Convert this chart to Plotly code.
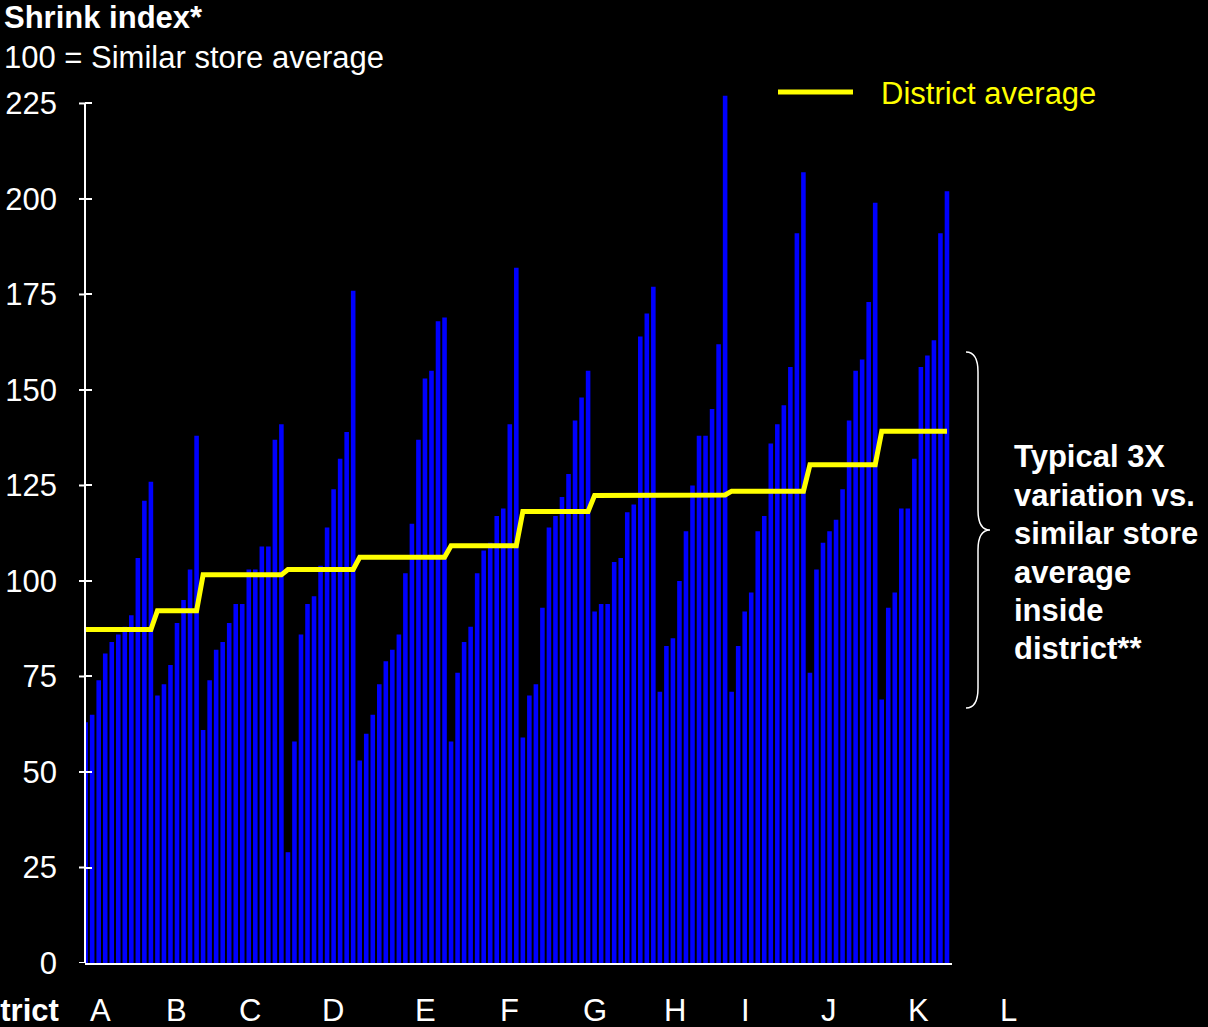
import plotly.graph_objects as go

# ---- data ----
districts = ["A", "B", "C", "D", "E", "F", "G", "H", "I", "J", "K", "L"]
store_A = [63, 65, 74, 81, 84, 86, 88, 91, 106, 121, 126]
store_B = [70, 73, 78, 89, 95, 103, 138]
store_C = [61, 74, 82, 84, 89, 94, 94, 103, 103, 109, 109, 137, 141]
store_D = [29, 58, 86, 94, 96, 104, 114, 124, 132, 139, 176]
store_E = [53, 60, 65, 73, 79, 82, 86, 102, 115, 137, 153, 155, 168, 169]
store_F = [58, 76, 84, 88, 102, 108, 110, 117, 119, 141, 182]
store_G = [59, 70, 73, 93, 114, 117, 122, 128, 142, 148, 155]
store_H = [92, 94, 94, 105, 106, 118, 120, 164, 170, 177]
store_I = [71, 83, 85, 100, 113, 125, 138, 138, 145, 162, 227]
store_J = [71, 83, 92, 97, 113, 117, 136, 141, 146, 156, 191, 207]
store_K = [76, 103, 110, 113, 116, 124, 142, 155, 158, 173, 199]
store_L = [69, 93, 97, 119, 119, 132, 156, 159, 163, 191, 202]
district_avg = [87.3, 92.2, 101.6, 103.0, 106.2, 109.2, 118.2, 122.4, 122.5, 123.5, 130.4, 139.2]
y_ticks = [0, 25, 50, 75, 100, 125, 150, 175, 200, 225]
note_lines = ["Typical 3X", "variation vs.", "similar store", "average", "inside", "district**"]

groups = [store_A, store_B, store_C, store_D, store_E, store_F,
          store_G, store_H, store_I, store_J, store_K, store_L]

shrink = []
avg_line = []
for g, a in zip(groups, district_avg):
    shrink.extend(g)
    avg_line.extend([a] * len(g))
idx = list(range(len(shrink)))

FONT = "Liberation Sans, Arial, sans-serif"
FS = 31

# layout geometry helpers (pixel -> paper)
L, R, T, B = 85, 256, 92, 64
W, H = 1208, 1027
PW, PH = W - L - R, H - T - B


def px(x):
    return (x - L) / PW


def py(y):
    return (H - B - y) / PH


fig = go.Figure()
fig.add_trace(go.Bar(x=idx, y=shrink, marker=dict(color="#0000FF", line=dict(width=0)),
                     showlegend=False, hoverinfo="y"))
fig.add_trace(go.Scatter(x=idx, y=avg_line, mode="lines",
                         line=dict(color="#FFFF00", width=5),
                         name="District average", showlegend=False))

shapes = []
# y axis line up to 225
shapes.append(dict(type="line", xref="paper", yref="y", x0=0, x1=0, y0=0, y1=225,
                   line=dict(color="white", width=2)))
# outer part of y ticks (ticks cross the axis in the reference)
for v in y_ticks:
    shapes.append(dict(type="line", xref="paper", yref="y", x0=px(79), x1=0, y0=v, y1=v,
                       line=dict(color="white", width=2)))
# legend line
shapes.append(dict(type="line", xref="paper", yref="paper",
                   x0=px(778), x1=px(853), y0=py(92), y1=py(92),
                   line=dict(color="#FFFF00", width=5)))
# brace
pts = [("M", 966, 352), ("Q", 978, 352, 978, 372), ("L", 978, 510),
       ("Q", 978, 530, 990, 530), ("Q", 978, 530, 978, 550), ("L", 978, 688),
       ("Q", 978, 708, 966, 708)]
path = ""
for p in pts:
    cmd = p[0]
    coords = p[1:]
    s = []
    for i in range(0, len(coords), 2):
        s.append(f"{px(coords[i]):.5f},{py(coords[i+1]):.5f}")
    path += cmd + " " + " ".join(s) + " "
shapes.append(dict(type="path", xref="paper", yref="paper", path=path.strip(),
                   line=dict(color="white", width=1.5)))

annotations = []
annotations.append(dict(text="<b>Shrink index*</b>", xref="paper", yref="paper",
                        x=px(2), y=py(17), xanchor="left", yanchor="middle",
                        showarrow=False, font=dict(size=FS, color="white", family=FONT)))
annotations.append(dict(text="100 = Similar store average", xref="paper", yref="paper",
                        x=px(2), y=py(57), xanchor="left", yanchor="middle",
                        showarrow=False, font=dict(size=FS, color="white", family=FONT)))
annotations.append(dict(text="District average", xref="paper", yref="paper",
                        x=px(879), y=py(94), xanchor="left", yanchor="middle",
                        showarrow=False, font=dict(size=FS, color="#FFFF00", family=FONT)))
note_py = [457, 495, 533, 572, 610, 648]
for line_txt, yp in zip(note_lines, note_py):
    annotations.append(dict(text=f"<b>{line_txt}</b>", xref="paper", yref="paper",
                            x=px(1012), y=py(yp), xanchor="left", yanchor="middle",
                            showarrow=False, font=dict(size=FS, color="white", family=FONT)))
annotations.append(dict(text="<b>District</b>", xref="paper", yref="paper",
                        x=px(61), y=py(1010), xanchor="right", yanchor="middle",
                        showarrow=False, font=dict(size=FS, color="white", family=FONT)))
label_px = [100, 176, 250, 333, 425, 509, 595, 675, 745, 829, 918, 1009]
for lab, xp in zip(districts, label_px):
    annotations.append(dict(text=lab, xref="paper", yref="paper", x=px(xp), y=py(1010),
                            xanchor="center", yanchor="middle", showarrow=False,
                            font=dict(size=FS, color="white", family=FONT)))

fig.update_layout(
    width=W, height=H,
    margin=dict(l=L, r=R, t=T, b=B, pad=0, autoexpand=False),
    paper_bgcolor="black", plot_bgcolor="black",
    bargap=0.3,
    shapes=shapes, annotations=annotations,
    font=dict(family=FONT, size=FS, color="white"),
    xaxis=dict(range=[-0.1, len(shrink) - 1 + 0.77], showgrid=False, zeroline=False,
               showticklabels=False, ticks="", showline=True, linecolor="white", linewidth=2,
               automargin=False),
    yaxis=dict(range=[0, 228], tickvals=y_ticks, ticktext=[str(v) for v in y_ticks],
               showgrid=False, zeroline=False, showline=False, ticks="inside",
               ticklen=7, tickwidth=2, tickcolor="white", ticklabelstandoff=27,
               automargin=False,
               tickfont=dict(size=FS, color="white", family=FONT)),
)

fig.write_html("out.html")
